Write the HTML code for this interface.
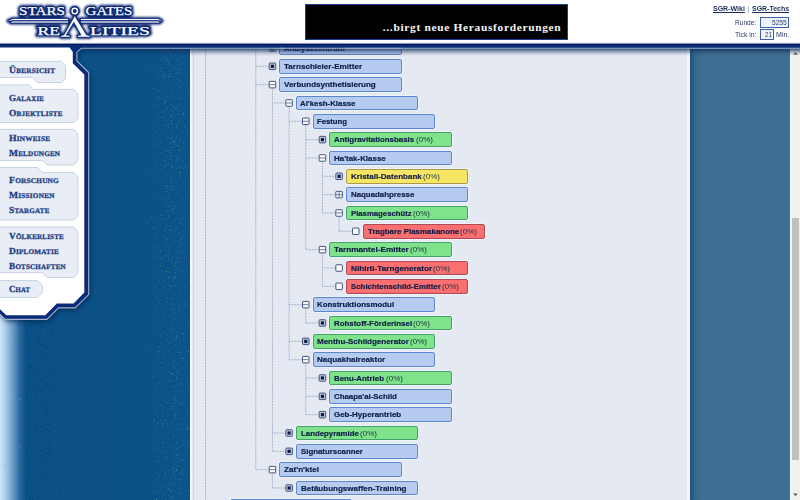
<!DOCTYPE html>
<html><head><meta charset="utf-8"><title>Stars Gates Realities</title>
<style>
html,body{margin:0;padding:0}
body{width:800px;height:500px;overflow:hidden;position:relative;background:#0b5185;font-family:"Liberation Sans",sans-serif}
.abs,.ln,.bx,.mi{position:absolute}
.ln{left:0;top:0;pointer-events:none}
#leftgrad{left:0;top:49px;width:26px;height:451px;background:linear-gradient(90deg,#cfe4f6 0,#a9cbe8 22%,#6b9cc6 50%,#2a6aa0 75%,#0b5185 100%)}
#bgmid{left:88px;top:49px;width:103px;height:451px;background:linear-gradient(90deg,#0b5185 0,#0b5287 60%,#0c5489 100%)}
#bgright{left:690px;top:49px;width:100px;height:451px;background:linear-gradient(90deg,#1c5282 0,#30648c 4%,#3b6c91 8%,#3f7093 13%,#3f7093 100%)}
#panel{left:190px;top:49px;width:500px;height:451px;background:#e4e9f2;box-sizing:border-box;border-left:2.5px solid #f4f6fa;border-right:3.5px solid #f4f6fa}
#panelin{left:193.2px;top:49px;width:1px;height:451px;background:#cfd6e4}
#sb{left:790px;top:49px;width:10px;height:451px;background:#f1f1f1;border-left:1.5px solid #fbfbfb;box-sizing:border-box}
#thumb{left:792px;top:218.2px;width:7px;height:241.6px;background:#c1c1c1}
#hdr{left:0;top:0;width:800px;height:44px;background:#fff;z-index:4}
#band{left:0;top:43.4px;width:800px;height:3.8px;background:linear-gradient(180deg,#001a58 0,#00308c 50%,#00206a 100%);z-index:4}
#band2{left:88px;top:47.2px;width:712px;height:1.9px;background:#9aa6c6;z-index:4}
#band3{left:88px;top:49.1px;width:712px;height:0.9px;background:#062868;z-index:4}
.bx{width:122.3px;height:14.6px;box-sizing:border-box;border:1px solid;border-radius:1.9px;font-size:7.6px;line-height:12.6px;color:#0f1b47;white-space:nowrap;box-shadow:0 0 0 0.7px rgba(245,248,253,.8)}
.bx b,.bx i{position:absolute;top:0.95px;transform-origin:0 50%;font-style:normal;display:inline-block}
.bx b{-webkit-text-stroke:0.18px #0f1b47}
.bx i{font-weight:normal;color:#1c3340}
.mi{font-family:"Liberation Serif",serif;font-weight:bold;color:#1d3c82;white-space:nowrap;line-height:1;transform-origin:0 50%;z-index:6;letter-spacing:0.2px;-webkit-text-stroke:0.3px #1d3c82}
#banner{left:304.6px;top:3.8px;width:263px;height:36.6px;background:#000;border:1px solid #1c3f94;box-sizing:border-box;z-index:5}
#bt{left:382.8px;top:22.25px;font-family:"Liberation Serif",serif;font-weight:bold;font-size:11.4px;line-height:1;color:#f4f4f4;white-space:nowrap;z-index:6;letter-spacing:0.688px}
.tr{font-size:7.6px;line-height:1;color:#3a4a72;white-space:nowrap;z-index:6;transform-origin:0 50%}
.inp{box-sizing:border-box;border:1px solid #3d61aa;background:#eef3fb;z-index:6}
</style></head><body>
<div class="abs" id="leftgrad"></div>
<div class="abs" id="bgmid"></div>
<div class="abs" id="bgright"></div>
<svg class="ln" width="800" height="500" viewBox="0 0 800 500" shape-rendering="crispEdges"><path d="M169 343h1v1h-1zM176 83h1v1h-1zM163 76h1v1h-1zM169 278h1v1h-1zM180 81h1v1h-1zM173 91h1v1h-1zM156 106h1v1h-1zM179 150h1v1h-1zM156 310h1v1h-1zM155 229h1v1h-1zM174 436h1v1h-1zM171 180h1v1h-1zM174 189h1v1h-1zM175 417h1v1h-1zM176 338h1v1h-1zM182 218h1v1h-1zM168 77h1v1h-1zM170 143h1v1h-1zM167 191h1v1h-1zM162 314h1v1h-1zM164 407h1v1h-1zM173 365h1v1h-1zM171 286h1v1h-1zM183 444h1v1h-1zM170 491h1v1h-1zM164 103h1v1h-1zM158 118h1v1h-1zM178 270h1v1h-1zM184 394h1v1h-1zM174 308h1v1h-1zM177 363h1v1h-1zM165 317h1v1h-1zM162 428h1v1h-1zM166 475h1v1h-1zM158 77h1v1h-1zM173 366h1v1h-1zM154 420h1v1h-1zM148 178h1v1h-1zM161 60h1v1h-1zM180 258h1v1h-1zM173 77h1v1h-1zM175 396h1v1h-1zM176 226h1v1h-1zM176 442h1v1h-1zM180 297h1v1h-1zM176 448h1v1h-1zM179 175h1v1h-1zM155 237h1v1h-1zM159 481h1v1h-1zM185 118h1v1h-1zM174 155h1v1h-1zM177 268h1v1h-1zM165 52h1v1h-1zM167 239h1v1h-1zM163 479h1v1h-1zM180 361h1v1h-1zM159 354h1v1h-1zM170 74h1v1h-1zM184 444h1v1h-1zM162 409h1v1h-1zM164 97h1v1h-1zM177 335h1v1h-1zM174 144h1v1h-1zM172 123h1v1h-1zM169 50h1v1h-1zM173 118h1v1h-1zM178 61h1v1h-1zM176 443h1v1h-1zM167 164h1v1h-1zM168 206h1v1h-1zM168 432h1v1h-1zM174 497h1v1h-1zM161 89h1v1h-1zM173 96h1v1h-1zM167 423h1v1h-1zM177 123h1v1h-1zM174 116h1v1h-1zM169 288h1v1h-1zM170 490h1v1h-1zM180 168h1v1h-1zM160 215h1v1h-1zM179 290h1v1h-1zM184 401h1v1h-1zM168 415h1v1h-1zM177 493h1v1h-1zM181 418h1v1h-1zM158 383h1v1h-1zM173 210h1v1h-1zM182 63h1v1h-1zM178 167h1v1h-1zM172 362h1v1h-1zM180 472h1v1h-1zM168 495h1v1h-1zM179 149h1v1h-1zM169 152h1v1h-1zM173 331h1v1h-1zM177 455h1v1h-1zM177 344h1v1h-1zM162 410h1v1h-1zM182 459h1v1h-1zM178 402h1v1h-1zM171 130h1v1h-1zM161 405h1v1h-1zM163 487h1v1h-1zM185 228h1v1h-1zM153 376h1v1h-1zM184 127h1v1h-1zM175 457h1v1h-1zM175 413h1v1h-1zM181 491h1v1h-1zM184 346h1v1h-1zM164 109h1v1h-1zM180 56h1v1h-1zM184 287h1v1h-1zM169 470h1v1h-1zM154 422h1v1h-1zM178 145h1v1h-1zM171 158h1v1h-1zM178 314h1v1h-1zM170 109h1v1h-1zM180 460h1v1h-1zM165 313h1v1h-1zM179 457h1v1h-1zM153 276h1v1h-1zM181 289h1v1h-1zM169 248h1v1h-1zM171 132h1v1h-1zM187 128h1v1h-1zM171 263h1v1h-1zM169 197h1v1h-1zM160 283h1v1h-1zM156 98h1v1h-1zM166 302h1v1h-1zM171 398h1v1h-1zM178 278h1v1h-1zM157 461h1v1h-1zM165 249h1v1h-1zM163 280h1v1h-1zM164 362h1v1h-1zM160 265h1v1h-1zM174 474h1v1h-1zM165 474h1v1h-1zM154 167h1v1h-1zM151 428h1v1h-1zM163 112h1v1h-1zM178 83h1v1h-1zM178 158h1v1h-1zM183 403h1v1h-1zM177 454h1v1h-1zM179 347h1v1h-1zM183 114h1v1h-1zM188 149h1v1h-1zM155 479h1v1h-1zM163 495h1v1h-1zM177 425h1v1h-1zM176 282h1v1h-1zM179 203h1v1h-1zM174 375h1v1h-1zM178 59h1v1h-1zM162 58h1v1h-1zM168 199h1v1h-1zM163 79h1v1h-1zM163 493h1v1h-1zM177 97h1v1h-1zM148 170h1v1h-1zM186 172h1v1h-1zM175 108h1v1h-1zM154 419h1v1h-1zM180 166h1v1h-1zM183 307h1v1h-1zM187 365h1v1h-1zM174 360h1v1h-1zM173 241h1v1h-1zM180 411h1v1h-1zM186 80h1v1h-1zM180 438h1v1h-1zM163 299h1v1h-1zM173 467h1v1h-1zM170 287h1v1h-1zM176 157h1v1h-1zM175 73h1v1h-1zM174 141h1v1h-1zM168 392h1v1h-1zM178 180h1v1h-1zM165 206h1v1h-1zM171 58h1v1h-1zM171 380h1v1h-1zM173 298h1v1h-1zM175 471h1v1h-1zM180 98h1v1h-1zM175 273h1v1h-1zM162 426h1v1h-1zM163 359h1v1h-1zM178 492h1v1h-1zM162 368h1v1h-1zM185 336h1v1h-1zM164 74h1v1h-1zM176 108h1v1h-1zM184 165h1v1h-1zM177 123h1v1h-1zM186 442h1v1h-1zM180 352h1v1h-1zM170 182h1v1h-1zM178 257h1v1h-1zM176 168h1v1h-1zM179 483h1v1h-1zM182 160h1v1h-1zM169 485h1v1h-1zM168 50h1v1h-1zM179 222h1v1h-1zM160 140h1v1h-1zM173 277h1v1h-1zM178 90h1v1h-1zM171 230h1v1h-1zM173 187h1v1h-1zM171 155h1v1h-1zM162 388h1v1h-1zM165 346h1v1h-1zM167 225h1v1h-1zM153 197h1v1h-1zM176 376h1v1h-1zM171 339h1v1h-1zM187 451h1v1h-1zM176 332h1v1h-1zM169 113h1v1h-1zM155 286h1v1h-1zM154 412h1v1h-1zM171 422h1v1h-1zM155 357h1v1h-1zM161 362h1v1h-1zM171 110h1v1h-1zM173 212h1v1h-1zM185 301h1v1h-1zM181 332h1v1h-1zM161 270h1v1h-1zM161 51h1v1h-1zM175 276h1v1h-1zM157 291h1v1h-1zM169 382h1v1h-1zM168 163h1v1h-1zM177 378h1v1h-1zM174 142h1v1h-1zM169 272h1v1h-1zM147 222h1v1h-1zM157 395h1v1h-1zM173 328h1v1h-1zM169 116h1v1h-1zM168 164h1v1h-1zM171 305h1v1h-1zM163 56h1v1h-1zM178 352h1v1h-1zM174 361h1v1h-1zM168 282h1v1h-1zM164 259h1v1h-1zM167 452h1v1h-1zM172 140h1v1h-1zM168 257h1v1h-1zM181 252h1v1h-1zM150 171h1v1h-1zM176 145h1v1h-1zM178 479h1v1h-1zM180 110h1v1h-1zM176 449h1v1h-1zM161 367h1v1h-1zM173 269h1v1h-1zM181 253h1v1h-1zM171 186h1v1h-1zM176 192h1v1h-1zM177 428h1v1h-1zM186 428h1v1h-1zM171 104h1v1h-1zM184 456h1v1h-1zM165 180h1v1h-1zM165 499h1v1h-1zM177 315h1v1h-1zM165 174h1v1h-1zM178 72h1v1h-1zM185 179h1v1h-1zM181 471h1v1h-1zM171 280h1v1h-1zM178 135h1v1h-1zM155 448h1v1h-1zM187 415h1v1h-1zM157 473h1v1h-1zM156 297h1v1h-1zM170 380h1v1h-1zM168 253h1v1h-1zM171 179h1v1h-1zM158 72h1v1h-1zM175 262h1v1h-1zM169 205h1v1h-1zM167 489h1v1h-1zM185 167h1v1h-1zM167 301h1v1h-1zM165 227h1v1h-1zM174 144h1v1h-1zM176 458h1v1h-1zM165 458h1v1h-1zM171 498h1v1h-1zM166 137h1v1h-1zM173 91h1v1h-1zM169 158h1v1h-1zM174 166h1v1h-1zM154 387h1v1h-1zM163 236h1v1h-1zM162 220h1v1h-1zM177 202h1v1h-1zM178 485h1v1h-1zM174 107h1v1h-1zM158 438h1v1h-1zM171 147h1v1h-1zM170 230h1v1h-1zM178 251h1v1h-1zM188 443h1v1h-1zM166 60h1v1h-1zM185 453h1v1h-1zM174 263h1v1h-1zM171 226h1v1h-1zM171 467h1v1h-1zM179 488h1v1h-1zM155 162h1v1h-1zM175 285h1v1h-1zM174 357h1v1h-1zM184 341h1v1h-1zM166 394h1v1h-1zM160 68h1v1h-1zM174 402h1v1h-1zM173 340h1v1h-1zM176 336h1v1h-1zM176 364h1v1h-1zM174 286h1v1h-1zM173 312h1v1h-1zM166 320h1v1h-1zM175 55h1v1h-1zM168 482h1v1h-1zM180 340h1v1h-1zM179 156h1v1h-1zM164 161h1v1h-1zM185 188h1v1h-1zM168 60h1v1h-1zM158 239h1v1h-1zM171 166h1v1h-1zM161 152h1v1h-1zM153 65h1v1h-1zM166 357h1v1h-1zM179 139h1v1h-1zM175 277h1v1h-1zM157 142h1v1h-1zM179 419h1v1h-1zM170 154h1v1h-1zM174 183h1v1h-1zM186 478h1v1h-1zM165 150h1v1h-1zM171 238h1v1h-1zM160 116h1v1h-1zM152 227h1v1h-1zM177 114h1v1h-1zM179 454h1v1h-1zM174 448h1v1h-1zM168 469h1v1h-1zM179 386h1v1h-1zM167 218h1v1h-1zM163 199h1v1h-1zM171 176h1v1h-1zM172 208h1v1h-1zM175 484h1v1h-1zM170 143h1v1h-1zM161 420h1v1h-1zM184 245h1v1h-1zM181 218h1v1h-1zM174 464h1v1h-1zM174 454h1v1h-1zM179 64h1v1h-1zM157 395h1v1h-1zM180 68h1v1h-1zM174 464h1v1h-1zM172 166h1v1h-1zM171 203h1v1h-1zM152 173h1v1h-1zM183 168h1v1h-1zM168 372h1v1h-1zM168 52h1v1h-1zM178 390h1v1h-1zM182 474h1v1h-1zM165 61h1v1h-1zM172 481h1v1h-1zM181 479h1v1h-1zM166 243h1v1h-1zM175 272h1v1h-1zM176 411h1v1h-1zM169 382h1v1h-1zM178 323h1v1h-1zM157 198h1v1h-1zM167 402h1v1h-1zM179 86h1v1h-1zM176 161h1v1h-1zM185 79h1v1h-1zM182 197h1v1h-1zM173 491h1v1h-1zM153 88h1v1h-1zM180 369h1v1h-1zM177 251h1v1h-1zM172 329h1v1h-1zM180 353h1v1h-1zM171 349h1v1h-1zM154 105h1v1h-1zM175 305h1v1h-1zM165 218h1v1h-1zM171 161h1v1h-1zM165 160h1v1h-1zM182 310h1v1h-1zM186 197h1v1h-1zM149 278h1v1h-1zM188 154h1v1h-1zM176 496h1v1h-1zM159 96h1v1h-1zM155 428h1v1h-1zM174 461h1v1h-1zM178 104h1v1h-1zM173 135h1v1h-1zM183 469h1v1h-1zM169 218h1v1h-1zM178 167h1v1h-1zM164 400h1v1h-1zM175 318h1v1h-1zM170 329h1v1h-1zM173 114h1v1h-1zM179 142h1v1h-1zM171 343h1v1h-1zM183 142h1v1h-1zM179 355h1v1h-1zM172 133h1v1h-1zM169 408h1v1h-1zM177 297h1v1h-1zM175 228h1v1h-1zM173 298h1v1h-1zM168 124h1v1h-1zM168 363h1v1h-1zM165 188h1v1h-1zM175 479h1v1h-1zM167 211h1v1h-1zM182 237h1v1h-1zM148 139h1v1h-1zM170 53h1v1h-1zM165 456h1v1h-1zM156 233h1v1h-1zM179 447h1v1h-1zM166 57h1v1h-1zM172 298h1v1h-1zM158 90h1v1h-1zM156 330h1v1h-1zM164 116h1v1h-1zM179 177h1v1h-1zM151 99h1v1h-1zM168 271h1v1h-1zM179 139h1v1h-1zM149 107h1v1h-1zM162 74h1v1h-1zM179 457h1v1h-1zM167 329h1v1h-1zM173 404h1v1h-1zM166 150h1v1h-1zM157 423h1v1h-1zM181 132h1v1h-1zM173 283h1v1h-1zM180 223h1v1h-1zM176 376h1v1h-1zM176 454h1v1h-1zM182 391h1v1h-1zM174 67h1v1h-1zM173 320h1v1h-1zM167 298h1v1h-1zM166 239h1v1h-1zM165 312h1v1h-1zM159 251h1v1h-1zM177 247h1v1h-1zM183 270h1v1h-1zM173 156h1v1h-1zM172 256h1v1h-1zM155 131h1v1h-1zM167 108h1v1h-1zM172 244h1v1h-1zM179 280h1v1h-1zM176 68h1v1h-1zM169 380h1v1h-1zM168 400h1v1h-1zM168 277h1v1h-1zM171 220h1v1h-1zM176 436h1v1h-1zM170 498h1v1h-1zM169 137h1v1h-1zM155 492h1v1h-1zM148 462h1v1h-1zM172 124h1v1h-1zM176 79h1v1h-1zM151 208h1v1h-1zM171 453h1v1h-1zM166 174h1v1h-1zM173 276h1v1h-1zM166 464h1v1h-1zM173 278h1v1h-1zM178 194h1v1h-1zM177 123h1v1h-1zM172 471h1v1h-1zM163 126h1v1h-1zM154 403h1v1h-1zM179 336h1v1h-1zM178 212h1v1h-1zM179 311h1v1h-1zM163 447h1v1h-1zM188 227h1v1h-1zM173 496h1v1h-1zM164 310h1v1h-1zM161 249h1v1h-1zM183 130h1v1h-1zM171 419h1v1h-1zM168 164h1v1h-1zM154 314h1v1h-1zM151 349h1v1h-1zM171 65h1v1h-1zM171 117h1v1h-1zM164 281h1v1h-1zM165 453h1v1h-1zM175 344h1v1h-1zM176 60h1v1h-1zM179 98h1v1h-1zM171 211h1v1h-1zM173 315h1v1h-1zM183 142h1v1h-1zM164 111h1v1h-1zM164 471h1v1h-1zM171 93h1v1h-1zM176 337h1v1h-1zM182 231h1v1h-1zM160 169h1v1h-1zM184 303h1v1h-1zM172 208h1v1h-1zM165 472h1v1h-1zM163 380h1v1h-1zM171 70h1v1h-1zM165 76h1v1h-1zM175 400h1v1h-1zM182 473h1v1h-1zM172 114h1v1h-1zM175 278h1v1h-1zM183 339h1v1h-1zM173 189h1v1h-1zM166 185h1v1h-1zM177 372h1v1h-1zM188 385h1v1h-1zM172 259h1v1h-1zM170 152h1v1h-1zM161 97h1v1h-1zM171 201h1v1h-1zM174 387h1v1h-1zM165 370h1v1h-1zM155 170h1v1h-1zM162 405h1v1h-1zM168 285h1v1h-1zM170 484h1v1h-1zM184 148h1v1h-1zM172 167h1v1h-1zM170 156h1v1h-1zM170 386h1v1h-1zM149 197h1v1h-1zM177 158h1v1h-1zM166 458h1v1h-1zM162 349h1v1h-1zM161 491h1v1h-1zM154 364h1v1h-1zM174 436h1v1h-1zM158 307h1v1h-1zM177 188h1v1h-1zM174 85h1v1h-1zM183 460h1v1h-1zM172 98h1v1h-1zM173 468h1v1h-1zM168 63h1v1h-1zM175 69h1v1h-1zM166 364h1v1h-1zM159 382h1v1h-1zM182 214h1v1h-1zM176 418h1v1h-1zM179 80h1v1h-1zM154 441h1v1h-1zM160 143h1v1h-1zM173 431h1v1h-1zM173 415h1v1h-1zM160 334h1v1h-1zM158 179h1v1h-1zM174 391h1v1h-1zM173 142h1v1h-1zM167 59h1v1h-1zM180 166h1v1h-1zM168 216h1v1h-1zM185 194h1v1h-1zM181 433h1v1h-1zM169 328h1v1h-1zM180 246h1v1h-1zM173 398h1v1h-1zM163 292h1v1h-1zM183 147h1v1h-1zM174 419h1v1h-1zM168 127h1v1h-1zM177 393h1v1h-1zM171 490h1v1h-1zM181 271h1v1h-1zM171 409h1v1h-1zM175 206h1v1h-1zM181 424h1v1h-1zM170 178h1v1h-1zM168 99h1v1h-1zM161 336h1v1h-1zM185 364h1v1h-1zM179 404h1v1h-1zM165 231h1v1h-1zM165 228h1v1h-1zM174 450h1v1h-1zM169 61h1v1h-1zM173 456h1v1h-1zM178 276h1v1h-1zM157 155h1v1h-1zM184 257h1v1h-1zM156 389h1v1h-1zM168 341h1v1h-1zM166 120h1v1h-1zM178 429h1v1h-1zM163 126h1v1h-1zM158 247h1v1h-1zM173 107h1v1h-1zM159 258h1v1h-1zM176 136h1v1h-1zM167 186h1v1h-1zM166 120h1v1h-1zM154 120h1v1h-1zM171 285h1v1h-1zM179 122h1v1h-1zM168 489h1v1h-1zM176 378h1v1h-1zM185 223h1v1h-1zM187 380h1v1h-1zM169 246h1v1h-1zM175 98h1v1h-1zM183 143h1v1h-1zM169 230h1v1h-1zM173 406h1v1h-1zM167 335h1v1h-1zM161 258h1v1h-1zM179 232h1v1h-1zM181 383h1v1h-1zM179 308h1v1h-1zM166 387h1v1h-1zM165 375h1v1h-1zM174 446h1v1h-1zM173 434h1v1h-1zM157 356h1v1h-1zM165 191h1v1h-1zM163 333h1v1h-1zM179 402h1v1h-1zM176 371h1v1h-1zM166 241h1v1h-1zM166 255h1v1h-1zM164 354h1v1h-1zM165 469h1v1h-1zM176 400h1v1h-1zM183 225h1v1h-1zM147 67h1v1h-1zM173 295h1v1h-1zM179 473h1v1h-1zM184 284h1v1h-1zM180 293h1v1h-1zM178 373h1v1h-1zM158 423h1v1h-1zM170 285h1v1h-1zM152 145h1v1h-1zM183 358h1v1h-1zM159 105h1v1h-1zM181 493h1v1h-1zM169 173h1v1h-1zM173 230h1v1h-1zM180 239h1v1h-1zM172 364h1v1h-1zM167 151h1v1h-1zM177 384h1v1h-1zM181 149h1v1h-1zM167 411h1v1h-1zM166 108h1v1h-1zM175 399h1v1h-1zM176 261h1v1h-1zM159 303h1v1h-1zM174 209h1v1h-1zM178 261h1v1h-1zM156 182h1v1h-1zM167 425h1v1h-1zM170 210h1v1h-1zM175 219h1v1h-1zM165 164h1v1h-1zM166 51h1v1h-1zM174 375h1v1h-1zM170 186h1v1h-1zM178 266h1v1h-1zM159 347h1v1h-1zM177 213h1v1h-1zM187 76h1v1h-1zM163 423h1v1h-1zM184 113h1v1h-1zM162 424h1v1h-1zM170 55h1v1h-1zM170 478h1v1h-1zM167 96h1v1h-1zM165 114h1v1h-1zM173 206h1v1h-1zM186 119h1v1h-1zM184 126h1v1h-1zM162 451h1v1h-1zM159 351h1v1h-1zM161 452h1v1h-1zM175 139h1v1h-1zM154 362h1v1h-1zM156 247h1v1h-1zM168 447h1v1h-1zM164 155h1v1h-1zM169 113h1v1h-1zM168 260h1v1h-1zM171 115h1v1h-1zM160 293h1v1h-1zM172 438h1v1h-1zM188 261h1v1h-1zM172 303h1v1h-1zM162 219h1v1h-1zM156 238h1v1h-1zM174 337h1v1h-1zM170 336h1v1h-1zM183 357h1v1h-1zM173 469h1v1h-1zM159 280h1v1h-1zM173 373h1v1h-1zM170 331h1v1h-1zM162 215h1v1h-1zM186 264h1v1h-1zM156 145h1v1h-1zM169 246h1v1h-1zM161 422h1v1h-1zM176 182h1v1h-1zM175 277h1v1h-1zM163 172h1v1h-1zM147 345h1v1h-1zM170 406h1v1h-1zM167 185h1v1h-1zM178 314h1v1h-1zM161 68h1v1h-1zM159 375h1v1h-1zM180 72h1v1h-1zM164 185h1v1h-1zM177 465h1v1h-1zM171 324h1v1h-1zM162 459h1v1h-1zM158 325h1v1h-1zM162 363h1v1h-1zM163 318h1v1h-1zM168 350h1v1h-1zM165 256h1v1h-1zM171 132h1v1h-1zM167 67h1v1h-1zM174 345h1v1h-1zM151 216h1v1h-1zM178 303h1v1h-1zM157 166h1v1h-1zM168 193h1v1h-1zM180 244h1v1h-1zM158 75h1v1h-1zM155 305h1v1h-1zM175 415h1v1h-1zM172 309h1v1h-1zM180 56h1v1h-1zM166 224h1v1h-1zM153 491h1v1h-1zM159 264h1v1h-1zM167 340h1v1h-1zM173 146h1v1h-1zM172 52h1v1h-1zM172 358h1v1h-1zM188 90h1v1h-1zM187 441h1v1h-1zM172 374h1v1h-1zM172 159h1v1h-1zM170 73h1v1h-1zM165 398h1v1h-1zM167 378h1v1h-1zM154 88h1v1h-1zM161 257h1v1h-1zM161 470h1v1h-1zM170 373h1v1h-1zM184 418h1v1h-1zM172 86h1v1h-1zM166 125h1v1h-1zM184 437h1v1h-1zM168 215h1v1h-1zM171 309h1v1h-1zM158 115h1v1h-1zM176 409h1v1h-1zM163 333h1v1h-1zM181 238h1v1h-1zM159 475h1v1h-1zM181 403h1v1h-1zM164 77h1v1h-1zM168 488h1v1h-1zM166 199h1v1h-1zM155 323h1v1h-1zM188 321h1v1h-1zM169 189h1v1h-1zM154 220h1v1h-1zM179 358h1v1h-1zM156 413h1v1h-1zM160 177h1v1h-1zM178 240h1v1h-1zM171 314h1v1h-1zM179 69h1v1h-1zM154 425h1v1h-1zM178 307h1v1h-1zM154 173h1v1h-1zM181 358h1v1h-1zM158 461h1v1h-1zM169 299h1v1h-1zM174 409h1v1h-1zM176 469h1v1h-1zM185 155h1v1h-1zM160 259h1v1h-1zM163 143h1v1h-1zM171 406h1v1h-1zM186 257h1v1h-1zM185 397h1v1h-1zM180 155h1v1h-1zM154 448h1v1h-1zM162 285h1v1h-1zM159 135h1v1h-1zM173 137h1v1h-1zM177 213h1v1h-1zM184 304h1v1h-1zM162 117h1v1h-1zM177 70h1v1h-1zM180 98h1v1h-1zM171 335h1v1h-1zM172 319h1v1h-1zM166 205h1v1h-1zM169 65h1v1h-1zM171 496h1v1h-1zM178 305h1v1h-1zM163 168h1v1h-1zM173 476h1v1h-1zM162 395h1v1h-1zM181 164h1v1h-1zM150 67h1v1h-1zM173 88h1v1h-1zM176 73h1v1h-1zM154 256h1v1h-1zM165 476h1v1h-1zM174 319h1v1h-1zM169 229h1v1h-1zM188 166h1v1h-1zM187 304h1v1h-1zM157 351h1v1h-1zM154 227h1v1h-1zM166 485h1v1h-1zM173 496h1v1h-1zM171 165h1v1h-1zM173 208h1v1h-1zM187 427h1v1h-1zM160 71h1v1h-1zM174 341h1v1h-1zM157 493h1v1h-1zM176 390h1v1h-1zM173 473h1v1h-1zM168 316h1v1h-1zM164 391h1v1h-1zM177 166h1v1h-1zM176 106h1v1h-1zM166 157h1v1h-1zM172 114h1v1h-1z" fill="#3d7aa6" opacity="0.55"/><path d="M171 373h1v1h-1zM171 138h1v1h-1zM176 470h1v1h-1zM183 113h1v1h-1zM160 251h1v1h-1zM187 429h1v1h-1zM183 333h1v1h-1zM165 420h1v1h-1zM174 265h1v1h-1zM169 150h1v1h-1zM169 76h1v1h-1zM170 115h1v1h-1zM162 442h1v1h-1zM171 120h1v1h-1zM180 172h1v1h-1zM176 126h1v1h-1zM166 271h1v1h-1zM165 101h1v1h-1zM188 490h1v1h-1zM188 351h1v1h-1zM178 145h1v1h-1zM165 166h1v1h-1zM173 141h1v1h-1zM156 499h1v1h-1z" fill="#3fa86c" opacity="0.8"/><path d="M49 482h1v1h-1zM47 332h1v1h-1zM41 496h1v1h-1zM34 325h1v1h-1zM45 347h1v1h-1zM33 322h1v1h-1zM48 355h1v1h-1zM31 399h1v1h-1zM48 424h1v1h-1zM38 347h1v1h-1zM49 449h1v1h-1zM58 357h1v1h-1zM46 430h1v1h-1zM44 410h1v1h-1zM41 431h1v1h-1zM49 448h1v1h-1zM47 358h1v1h-1zM30 334h1v1h-1zM41 450h1v1h-1zM32 332h1v1h-1zM45 472h1v1h-1zM34 476h1v1h-1zM40 484h1v1h-1zM42 407h1v1h-1zM47 355h1v1h-1zM36 470h1v1h-1zM38 388h1v1h-1zM46 428h1v1h-1zM54 401h1v1h-1zM42 414h1v1h-1zM53 467h1v1h-1zM53 476h1v1h-1zM35 390h1v1h-1zM56 456h1v1h-1zM61 492h1v1h-1zM50 410h1v1h-1zM30 418h1v1h-1zM41 326h1v1h-1zM49 354h1v1h-1zM41 340h1v1h-1zM42 327h1v1h-1zM60 339h1v1h-1zM40 325h1v1h-1zM36 429h1v1h-1zM31 447h1v1h-1zM36 340h1v1h-1zM53 330h1v1h-1zM30 344h1v1h-1zM30 372h1v1h-1zM42 344h1v1h-1zM37 427h1v1h-1zM45 475h1v1h-1zM50 455h1v1h-1zM52 351h1v1h-1zM53 391h1v1h-1zM49 392h1v1h-1zM32 490h1v1h-1zM44 365h1v1h-1zM33 382h1v1h-1zM53 484h1v1h-1zM50 332h1v1h-1zM65 366h1v1h-1zM36 397h1v1h-1zM36 416h1v1h-1zM35 334h1v1h-1zM31 326h1v1h-1zM47 347h1v1h-1zM59 489h1v1h-1zM39 435h1v1h-1zM50 479h1v1h-1zM37 443h1v1h-1zM36 371h1v1h-1zM36 367h1v1h-1zM31 491h1v1h-1zM41 373h1v1h-1zM37 343h1v1h-1zM56 428h1v1h-1zM54 370h1v1h-1zM39 405h1v1h-1zM36 344h1v1h-1zM41 345h1v1h-1zM39 373h1v1h-1zM52 365h1v1h-1zM53 471h1v1h-1zM49 431h1v1h-1zM29 358h1v1h-1zM36 448h1v1h-1zM30 431h1v1h-1zM45 405h1v1h-1zM39 361h1v1h-1zM49 413h1v1h-1zM32 324h1v1h-1zM51 385h1v1h-1zM47 421h1v1h-1zM36 409h1v1h-1zM36 375h1v1h-1zM71 459h1v1h-1zM44 477h1v1h-1zM45 400h1v1h-1zM51 400h1v1h-1zM46 453h1v1h-1zM48 493h1v1h-1zM47 453h1v1h-1zM47 385h1v1h-1zM49 442h1v1h-1zM27 468h1v1h-1zM29 414h1v1h-1zM41 457h1v1h-1zM45 485h1v1h-1zM27 345h1v1h-1zM43 458h1v1h-1zM41 426h1v1h-1zM42 396h1v1h-1zM46 430h1v1h-1zM31 451h1v1h-1zM45 374h1v1h-1zM32 390h1v1h-1zM50 379h1v1h-1zM46 411h1v1h-1zM45 348h1v1h-1zM50 424h1v1h-1zM38 486h1v1h-1zM40 380h1v1h-1zM53 493h1v1h-1zM26 358h1v1h-1zM52 330h1v1h-1zM31 486h1v1h-1zM37 460h1v1h-1zM33 414h1v1h-1zM38 386h1v1h-1zM33 428h1v1h-1zM28 442h1v1h-1zM62 415h1v1h-1zM50 393h1v1h-1zM48 422h1v1h-1zM33 409h1v1h-1zM29 499h1v1h-1zM47 383h1v1h-1zM39 379h1v1h-1zM61 413h1v1h-1zM39 342h1v1h-1zM54 468h1v1h-1zM33 498h1v1h-1zM50 350h1v1h-1zM35 374h1v1h-1zM30 355h1v1h-1zM41 354h1v1h-1zM33 385h1v1h-1zM32 499h1v1h-1zM40 395h1v1h-1zM40 462h1v1h-1zM37 323h1v1h-1zM56 376h1v1h-1zM49 441h1v1h-1zM31 357h1v1h-1zM29 369h1v1h-1zM42 437h1v1h-1zM35 395h1v1h-1zM46 457h1v1h-1zM46 341h1v1h-1zM47 415h1v1h-1zM46 469h1v1h-1zM28 333h1v1h-1zM30 324h1v1h-1zM43 449h1v1h-1zM33 385h1v1h-1zM46 340h1v1h-1zM49 483h1v1h-1zM34 402h1v1h-1zM37 391h1v1h-1zM62 426h1v1h-1zM49 493h1v1h-1zM29 366h1v1h-1zM47 330h1v1h-1zM60 378h1v1h-1zM34 482h1v1h-1zM45 429h1v1h-1zM34 493h1v1h-1zM43 391h1v1h-1zM41 377h1v1h-1zM35 478h1v1h-1zM44 353h1v1h-1zM38 495h1v1h-1zM47 374h1v1h-1zM37 417h1v1h-1zM40 391h1v1h-1zM39 344h1v1h-1zM44 469h1v1h-1zM38 356h1v1h-1zM48 372h1v1h-1zM42 440h1v1h-1zM45 383h1v1h-1zM51 338h1v1h-1zM55 370h1v1h-1zM45 401h1v1h-1zM37 471h1v1h-1zM44 385h1v1h-1zM36 451h1v1h-1zM60 491h1v1h-1zM35 403h1v1h-1zM42 345h1v1h-1zM40 482h1v1h-1zM35 427h1v1h-1zM37 430h1v1h-1zM48 360h1v1h-1zM46 413h1v1h-1zM38 419h1v1h-1zM40 390h1v1h-1zM59 439h1v1h-1zM34 391h1v1h-1zM38 337h1v1h-1zM51 379h1v1h-1zM59 440h1v1h-1zM52 386h1v1h-1zM50 411h1v1h-1zM41 377h1v1h-1zM46 362h1v1h-1zM53 372h1v1h-1zM53 394h1v1h-1zM57 479h1v1h-1zM33 475h1v1h-1zM47 327h1v1h-1zM48 443h1v1h-1zM37 395h1v1h-1zM34 439h1v1h-1zM40 473h1v1h-1zM35 385h1v1h-1zM38 343h1v1h-1zM37 484h1v1h-1zM40 329h1v1h-1zM26 329h1v1h-1zM45 376h1v1h-1zM48 390h1v1h-1zM50 436h1v1h-1zM44 354h1v1h-1zM49 450h1v1h-1zM31 367h1v1h-1zM28 384h1v1h-1zM48 322h1v1h-1zM51 373h1v1h-1zM27 330h1v1h-1zM50 330h1v1h-1zM31 366h1v1h-1z" fill="#0a2f86" opacity="0.7"/><path d="M5 464h1v1h-1zM7 485h1v1h-1zM16 340h1v1h-1zM15 394h1v1h-1zM16 470h1v1h-1zM8 341h1v1h-1zM19 399h1v1h-1zM19 446h1v1h-1z" fill="#55c080" opacity="0.8"/></svg>
<div class="abs" id="panel"></div>
<div class="abs" id="panelin"></div>
<svg class="ln" width="800" height="500" viewBox="0 0 800 500"><g stroke="#8794b0" stroke-width="0.85" stroke-dasharray="0.77 0.77" fill="none"><line x1="205.60" y1="49.00" x2="205.60" y2="500.00"/><line x1="255.79" y1="47.96" x2="268.75" y2="47.96"/><line x1="255.79" y1="66.30" x2="268.75" y2="66.30"/><line x1="255.79" y1="84.63" x2="268.75" y2="84.63"/><line x1="272.45" y1="102.97" x2="285.41" y2="102.97"/><line x1="289.11" y1="121.31" x2="302.07" y2="121.31"/><line x1="305.77" y1="139.64" x2="318.73" y2="139.64"/><line x1="305.77" y1="157.98" x2="318.73" y2="157.98"/><line x1="322.43" y1="176.31" x2="335.39" y2="176.31"/><line x1="322.43" y1="194.64" x2="335.39" y2="194.64"/><line x1="322.43" y1="212.98" x2="335.39" y2="212.98"/><line x1="339.09" y1="231.31" x2="352.05" y2="231.31"/><line x1="305.77" y1="249.65" x2="318.73" y2="249.65"/><line x1="322.43" y1="267.99" x2="335.39" y2="267.99"/><line x1="322.43" y1="286.32" x2="335.39" y2="286.32"/><line x1="289.11" y1="304.66" x2="302.07" y2="304.66"/><line x1="305.77" y1="322.99" x2="318.73" y2="322.99"/><line x1="289.11" y1="341.33" x2="302.07" y2="341.33"/><line x1="289.11" y1="359.66" x2="302.07" y2="359.66"/><line x1="305.77" y1="378.00" x2="318.73" y2="378.00"/><line x1="305.77" y1="396.33" x2="318.73" y2="396.33"/><line x1="305.77" y1="414.67" x2="318.73" y2="414.67"/><line x1="272.45" y1="433.00" x2="285.41" y2="433.00"/><line x1="272.45" y1="451.34" x2="285.41" y2="451.34"/><line x1="255.79" y1="469.67" x2="268.75" y2="469.67"/><line x1="272.45" y1="488.01" x2="285.41" y2="488.01"/><line x1="255.79" y1="40.00" x2="255.79" y2="469.67"/><line x1="272.45" y1="88.33" x2="272.45" y2="451.34"/><line x1="289.11" y1="106.67" x2="289.11" y2="359.66"/><line x1="305.77" y1="125.01" x2="305.77" y2="249.65"/><line x1="322.43" y1="161.68" x2="322.43" y2="212.98"/><line x1="339.09" y1="216.68" x2="339.09" y2="231.31"/><line x1="322.43" y1="253.35" x2="322.43" y2="286.32"/><line x1="305.77" y1="308.36" x2="305.77" y2="322.99"/><line x1="305.77" y1="363.36" x2="305.77" y2="414.67"/><line x1="272.45" y1="473.37" x2="272.45" y2="488.01"/><line x1="205.60" y1="506.34" x2="218.80" y2="506.34"/></g></svg>
<svg class="ln" width="800" height="500" viewBox="0 0 800 500"><rect x="269.20" y="44.71" width="6.5" height="6.5" rx="0.6" fill="#c3cbdb" stroke="#435681" stroke-width="1"/><rect x="270.85" y="46.36" width="3.2" height="3.2" fill="#0e1a4a"/><rect x="269.20" y="63.05" width="6.5" height="6.5" rx="0.6" fill="#c3cbdb" stroke="#435681" stroke-width="1"/><rect x="270.85" y="64.70" width="3.2" height="3.2" fill="#0e1a4a"/><rect x="269.20" y="81.38" width="6.5" height="6.5" rx="0.6" fill="#fdfdff" stroke="#435681" stroke-width="1"/><line x1="269.70" y1="84.63" x2="275.20" y2="84.63" stroke="#5a6c94" stroke-width="0.9"/><rect x="285.86" y="99.72" width="6.5" height="6.5" rx="0.6" fill="#fdfdff" stroke="#435681" stroke-width="1"/><line x1="286.36" y1="102.97" x2="291.86" y2="102.97" stroke="#5a6c94" stroke-width="0.9"/><rect x="302.52" y="118.06" width="6.5" height="6.5" rx="0.6" fill="#fdfdff" stroke="#435681" stroke-width="1"/><line x1="303.02" y1="121.31" x2="308.52" y2="121.31" stroke="#5a6c94" stroke-width="0.9"/><rect x="319.18" y="136.39" width="6.5" height="6.5" rx="0.6" fill="#c3cbdb" stroke="#435681" stroke-width="1"/><rect x="320.83" y="138.04" width="3.2" height="3.2" fill="#0e1a4a"/><rect x="319.18" y="154.73" width="6.5" height="6.5" rx="0.6" fill="#fdfdff" stroke="#435681" stroke-width="1"/><line x1="319.68" y1="157.98" x2="325.18" y2="157.98" stroke="#5a6c94" stroke-width="0.9"/><rect x="335.84" y="173.06" width="6.5" height="6.5" rx="0.6" fill="#c3cbdb" stroke="#435681" stroke-width="1"/><rect x="337.49" y="174.71" width="3.2" height="3.2" fill="#0e1a4a"/><rect x="335.84" y="191.39" width="6.5" height="6.5" rx="0.6" fill="#fdfdff" stroke="#435681" stroke-width="1"/><line x1="336.34" y1="194.64" x2="341.84" y2="194.64" stroke="#5a6c94" stroke-width="0.9"/><line x1="339.09" y1="191.89" x2="339.09" y2="197.39" stroke="#5a6c94" stroke-width="0.9"/><rect x="335.84" y="209.73" width="6.5" height="6.5" rx="0.6" fill="#fdfdff" stroke="#435681" stroke-width="1"/><line x1="336.34" y1="212.98" x2="341.84" y2="212.98" stroke="#5a6c94" stroke-width="0.9"/><rect x="352.50" y="228.06" width="6.5" height="6.5" rx="0.6" fill="#fdfdff" stroke="#435681" stroke-width="1"/><rect x="319.18" y="246.40" width="6.5" height="6.5" rx="0.6" fill="#fdfdff" stroke="#435681" stroke-width="1"/><line x1="319.68" y1="249.65" x2="325.18" y2="249.65" stroke="#5a6c94" stroke-width="0.9"/><rect x="335.84" y="264.74" width="6.5" height="6.5" rx="0.6" fill="#fdfdff" stroke="#435681" stroke-width="1"/><rect x="335.84" y="283.07" width="6.5" height="6.5" rx="0.6" fill="#fdfdff" stroke="#435681" stroke-width="1"/><rect x="302.52" y="301.41" width="6.5" height="6.5" rx="0.6" fill="#fdfdff" stroke="#435681" stroke-width="1"/><line x1="303.02" y1="304.66" x2="308.52" y2="304.66" stroke="#5a6c94" stroke-width="0.9"/><rect x="319.18" y="319.74" width="6.5" height="6.5" rx="0.6" fill="#c3cbdb" stroke="#435681" stroke-width="1"/><rect x="320.83" y="321.39" width="3.2" height="3.2" fill="#0e1a4a"/><rect x="302.52" y="338.08" width="6.5" height="6.5" rx="0.6" fill="#c3cbdb" stroke="#435681" stroke-width="1"/><rect x="304.17" y="339.73" width="3.2" height="3.2" fill="#0e1a4a"/><rect x="302.52" y="356.41" width="6.5" height="6.5" rx="0.6" fill="#fdfdff" stroke="#435681" stroke-width="1"/><line x1="303.02" y1="359.66" x2="308.52" y2="359.66" stroke="#5a6c94" stroke-width="0.9"/><rect x="319.18" y="374.75" width="6.5" height="6.5" rx="0.6" fill="#c3cbdb" stroke="#435681" stroke-width="1"/><rect x="320.83" y="376.39" width="3.2" height="3.2" fill="#0e1a4a"/><rect x="319.18" y="393.08" width="6.5" height="6.5" rx="0.6" fill="#c3cbdb" stroke="#435681" stroke-width="1"/><rect x="320.83" y="394.73" width="3.2" height="3.2" fill="#0e1a4a"/><rect x="319.18" y="411.42" width="6.5" height="6.5" rx="0.6" fill="#c3cbdb" stroke="#435681" stroke-width="1"/><rect x="320.83" y="413.06" width="3.2" height="3.2" fill="#0e1a4a"/><rect x="285.86" y="429.75" width="6.5" height="6.5" rx="0.6" fill="#c3cbdb" stroke="#435681" stroke-width="1"/><rect x="287.51" y="431.40" width="3.2" height="3.2" fill="#0e1a4a"/><rect x="285.86" y="448.09" width="6.5" height="6.5" rx="0.6" fill="#c3cbdb" stroke="#435681" stroke-width="1"/><rect x="287.51" y="449.74" width="3.2" height="3.2" fill="#0e1a4a"/><rect x="269.20" y="466.42" width="6.5" height="6.5" rx="0.6" fill="#fdfdff" stroke="#435681" stroke-width="1"/><line x1="269.70" y1="469.67" x2="275.20" y2="469.67" stroke="#5a6c94" stroke-width="0.9"/><rect x="285.86" y="484.76" width="6.5" height="6.5" rx="0.6" fill="#c3cbdb" stroke="#435681" stroke-width="1"/><rect x="287.51" y="486.41" width="3.2" height="3.2" fill="#0e1a4a"/></svg>
<div class="bx" style="left:279.30px;top:40.66px;background:#b5cbf0;border-color:#5c86cd"><b style="left:3.80px;transform:scaleX(1.0374)">Analysezentrum</b></div>
<div class="bx" style="left:279.30px;top:59.00px;background:#b5cbf0;border-color:#5c86cd"><b style="left:3.80px;transform:scaleX(1.0655)">Tarnschleier-Emitter</b></div>
<div class="bx" style="left:279.30px;top:77.33px;background:#b5cbf0;border-color:#5c86cd"><b style="left:3.40px;transform:scaleX(1.0548)">Verbundsynthetisierung</b></div>
<div class="bx" style="left:295.96px;top:95.67px;background:#b5cbf0;border-color:#5c86cd"><b style="left:3.44px;transform:scaleX(1.0326)">Al'kesh-Klasse</b></div>
<div class="bx" style="left:312.62px;top:114.01px;background:#b5cbf0;border-color:#5c86cd"><b style="left:3.48px;transform:scaleX(1.0166)">Festung</b></div>
<div class="bx" style="left:329.28px;top:132.34px;background:#7fe38c;border-color:#46a06a"><b style="left:3.82px;transform:scaleX(1.0375)">Antigravitationsbasis</b><i style="left:85.42px;transform:scaleX(1.0594)">(0%)</i></div>
<div class="bx" style="left:329.28px;top:150.68px;background:#b5cbf0;border-color:#5c86cd"><b style="left:3.82px;transform:scaleX(1.0448)">Ha'tak-Klasse</b></div>
<div class="bx" style="left:345.94px;top:169.01px;background:#f7e663;border-color:#a99a4a"><b style="left:3.76px;transform:scaleX(1.0551)">Kristall-Datenbank</b><i style="left:76.16px;transform:scaleX(1.0594)">(0%)</i></div>
<div class="bx" style="left:345.94px;top:187.34px;background:#b5cbf0;border-color:#5c86cd"><b style="left:3.76px;transform:scaleX(1.0341)">Naquadahpresse</b></div>
<div class="bx" style="left:345.94px;top:205.68px;background:#7fe38c;border-color:#46a06a"><b style="left:3.76px;transform:scaleX(1.0191)">Plasmageschütz</b><i style="left:66.16px;transform:scaleX(1.0594)">(0%)</i></div>
<div class="bx" style="left:362.60px;top:224.01px;background:#fa7070;border-color:#b04a55"><b style="left:4.00px;transform:scaleX(1.0447)">Tragbare Plasmakanone</b><i style="left:96.10px;transform:scaleX(1.0594)">(0%)</i></div>
<div class="bx" style="left:329.28px;top:242.35px;background:#7fe38c;border-color:#46a06a"><b style="left:3.57px;transform:scaleX(1.0830)">Tarnmantel-Emitter</b><i style="left:79.42px;transform:scaleX(1.0594)">(0%)</i></div>
<div class="bx" style="left:345.94px;top:260.69px;background:#fa7070;border-color:#b04a55"><b style="left:3.91px;transform:scaleX(1.0763)">Nihirti-Tarngenerator</b><i style="left:86.51px;transform:scaleX(1.0594)">(0%)</i></div>
<div class="bx" style="left:345.94px;top:279.02px;background:#fa7070;border-color:#b04a55"><b style="left:3.91px;transform:scaleX(1.0325)">Schichtenschild-Emitter</b><i style="left:95.01px;transform:scaleX(1.0594)">(0%)</i></div>
<div class="bx" style="left:312.62px;top:297.36px;background:#b5cbf0;border-color:#5c86cd"><b style="left:3.48px;transform:scaleX(1.0381)">Konstruktionsmodul</b></div>
<div class="bx" style="left:329.28px;top:315.69px;background:#7fe38c;border-color:#46a06a"><b style="left:3.57px;transform:scaleX(1.0399)">Rohstoff-Förderinsel</b><i style="left:82.92px;transform:scaleX(1.0594)">(0%)</i></div>
<div class="bx" style="left:312.62px;top:334.03px;background:#7fe38c;border-color:#46a06a"><b style="left:3.48px;transform:scaleX(1.0509)">Menthu-Schildgenerator</b><i style="left:96.08px;transform:scaleX(1.0594)">(0%)</i></div>
<div class="bx" style="left:312.62px;top:352.36px;background:#b5cbf0;border-color:#5c86cd"><b style="left:3.48px;transform:scaleX(1.0632)">Naquakhalreaktor</b></div>
<div class="bx" style="left:329.28px;top:370.69px;background:#7fe38c;border-color:#46a06a"><b style="left:3.57px;transform:scaleX(1.0386)">Benu-Antrieb</b><i style="left:55.42px;transform:scaleX(1.0594)">(0%)</i></div>
<div class="bx" style="left:329.28px;top:389.03px;background:#b5cbf0;border-color:#5c86cd"><b style="left:3.57px;transform:scaleX(1.0328)">Chaapa'ai-Schild</b></div>
<div class="bx" style="left:329.28px;top:407.37px;background:#b5cbf0;border-color:#5c86cd"><b style="left:3.57px;transform:scaleX(1.0475)">Geb-Hyperantrieb</b></div>
<div class="bx" style="left:295.96px;top:425.70px;background:#7fe38c;border-color:#46a06a"><b style="left:4.14px;transform:scaleX(1.0299)">Landepyramide</b><i style="left:63.24px;transform:scaleX(1.0594)">(0%)</i></div>
<div class="bx" style="left:295.96px;top:444.04px;background:#b5cbf0;border-color:#5c86cd"><b style="left:4.14px;transform:scaleX(1.0324)">Signaturscanner</b></div>
<div class="bx" style="left:279.30px;top:462.37px;background:#b5cbf0;border-color:#5c86cd"><b style="left:4.20px;transform:scaleX(1.0722)">Zat'n'ktel</b></div>
<div class="bx" style="left:295.96px;top:480.71px;background:#b5cbf0;border-color:#5c86cd"><b style="left:4.14px;transform:scaleX(1.0549)">Betäubungswaffen-Training</b></div>
<div class="bx" style="left:229.8px;top:499.04px;background:#b5cbf0;border-color:#5c86cd"></div>
<div class="abs" id="sb"></div><div class="abs" id="thumb"></div>
<svg class="ln" width="800" height="500" viewBox="0 0 800 500"><path d="M793.2,54.6 L795.5,52.2 L797.8,54.6 Z" fill="#505050"/><path d="M793.2,493.6 L795.5,496 L797.8,493.6 Z" fill="#505050"/></svg>
<div class="abs" style="left:89px;top:48.6px;width:711px;height:7.5px;background:linear-gradient(180deg,rgba(40,60,110,.55) 0,rgba(40,60,110,.28) 30%,rgba(40,60,110,.08) 70%,rgba(40,60,110,0) 100%);z-index:3"></div>
<div class="abs" id="hdr"></div>

<svg class="ln" style="z-index:5" width="800" height="340" viewBox="0 0 800 340">
<defs><filter id="sh" x="-20%" y="-20%" width="140%" height="140%"><feGaussianBlur stdDeviation="2.4"/></filter></defs>
<polygon points="-0.3999999999999999,46.4 803.6,46.4 803.6,50.300000000000004 82.8,50.300000000000004 78.0,54.6 78.0,63.800000000000004 89.8,75.39999999999999 89.8,297.0 76.6,310.0 59.800000000000004,310.0 48.300000000000004,321.5 7.1,321.5 -0.3999999999999999,314.6" fill="#04204c" opacity="0.75" filter="url(#sh)"/>
<polygon points="-2,43.8 802,43.8 802,47.7 81.2,47.7 76.4,52 76.4,61.2 88.2,72.8 88.2,294.4 75,307.4 58.2,307.4 46.7,318.9 5.5,318.9 -2,312.0" fill="#0a2b79"/>
<rect x="-2" y="43.8" width="804" height="1.2" fill="#001a58"/>
<polyline points="802,48.2 81.4,48.2 76.9,52.2 76.9,61.0 88.7,72.6 88.7,294.6 75.2,307.9 58.4,307.9 46.9,319.4 5.3,319.4 -2,312.6" fill="none" stroke="#a3b0cc" stroke-width="1.1"/>
<polygon points="-2,47.5 69.6,47.5 72.8,52 72.8,63.2 84.3,74.4 84.3,292.5 73.6,303.5 56.8,303.5 45.3,315.3 6.4,315.3 -2,307.4" fill="#ffffff"/>
<polygon points="-2,61.4 61,61.4 65.6,65.8 65.6,78.5 61,82.5 37.5,82.5 32.5,77.5 -2,77.5" fill="#e9edf5" stroke="#c9d2e3" stroke-width="1"/><polygon points="-2,85 28.75,85 33,89.4 73.75,89.4 78,93.75 78,118.5 73.75,122.5 -2,122.5" fill="#e9edf5" stroke="#c9d2e3" stroke-width="1"/><polygon points="-2,129.4 73.75,129.4 78,134 78,160.6 73.75,165 47,165 42.5,160.6 -2,160.6" fill="#e9edf5" stroke="#c9d2e3" stroke-width="1"/><polygon points="-2,167.5 37.5,167.5 42.5,172.5 73.75,172.5 78,177 78,215.5 73.75,220 -2,220" fill="#e9edf5" stroke="#c9d2e3" stroke-width="1"/><polygon points="-2,227 73.75,227 78,231.5 78,273 73.75,277.5 47,277.5 42.5,272.5 -2,272.5" fill="#e9edf5" stroke="#c9d2e3" stroke-width="1"/><polygon points="-2,280.6 37.5,280.6 42.5,285.6 42.5,292.5 37.5,297.5 -2,297.5" fill="#e9edf5" stroke="#c9d2e3" stroke-width="1"/>
</svg>
<div class="mi" style="left:8.6px;top:66.46px;font-size:9.3px;transform:rotate(0.03deg) scaleX(1.0322)">Ü<span style="font-size:7.02px">BERSICHT</span></div>
<div class="mi" style="left:8.6px;top:93.56px;font-size:9.3px;transform:rotate(0.03deg) scaleX(0.9737)">G<span style="font-size:7.02px">ALAXIE</span></div>
<div class="mi" style="left:8.6px;top:108.86px;font-size:9.3px;transform:rotate(0.03deg) scaleX(1.0114)">O<span style="font-size:7.02px">BJEKTLISTE</span></div>
<div class="mi" style="left:8.6px;top:133.96px;font-size:9.3px;transform:rotate(0.03deg) scaleX(1.0400)">H<span style="font-size:7.02px">INWEISE</span></div>
<div class="mi" style="left:8.6px;top:148.96px;font-size:9.3px;transform:rotate(0.03deg) scaleX(1.0174)">M<span style="font-size:7.02px">ELDUNGEN</span></div>
<div class="mi" style="left:8.6px;top:176.46px;font-size:9.3px;transform:rotate(0.03deg) scaleX(1.0405)">F<span style="font-size:7.02px">ORSCHUNG</span></div>
<div class="mi" style="left:8.6px;top:191.16px;font-size:9.3px;transform:rotate(0.03deg) scaleX(1.0342)">M<span style="font-size:7.02px">ISSIONEN</span></div>
<div class="mi" style="left:8.6px;top:205.96px;font-size:9.3px;transform:rotate(0.03deg) scaleX(1.0049)">S<span style="font-size:7.02px">TARGATE</span></div>
<div class="mi" style="left:8.6px;top:231.71px;font-size:9.3px;transform:rotate(0.03deg) scaleX(1.0007)">V<span style="font-size:7.02px">ÖLKERLISTE</span></div>
<div class="mi" style="left:8.6px;top:246.71px;font-size:9.3px;transform:rotate(0.03deg) scaleX(1.0171)">D<span style="font-size:7.02px">IPLOMATIE</span></div>
<div class="mi" style="left:8.6px;top:261.56px;font-size:9.3px;transform:rotate(0.03deg) scaleX(1.0012)">B<span style="font-size:7.02px">OTSCHAFTEN</span></div>
<div class="mi" style="left:8.6px;top:285.46px;font-size:9.3px;transform:rotate(0.03deg) scaleX(0.9567)">C<span style="font-size:7.02px">HAT</span></div>
<svg class="ln" style="z-index:6" width="180" height="43" viewBox="0 0 180 43">
<defs><filter id="lg" x="-10%" y="-40%" width="120%" height="180%"><feGaussianBlur stdDeviation="0.9"/></filter>
<g id="lshape">
<text x="19" y="14.7" font-size="13.4" textLength="46" lengthAdjust="spacingAndGlyphs">STARS</text>
<text x="85.6" y="14.7" font-size="13.4" textLength="46.8" lengthAdjust="spacingAndGlyphs">GATES</text>
<text x="37.5" y="35" font-size="12.4" textLength="22.5" lengthAdjust="spacingAndGlyphs">RE</text>
<text x="90" y="35" font-size="12.4" textLength="59.8" lengthAdjust="spacingAndGlyphs">LITIES</text>
</g>
<g id="lbars">
<path d="M8.5,20.7 L13,19.1 L68,19.1 L68,20 L13,20 Z M11,22.4 L68,22.4 L68,21.6 L13,21.6 Z"/>
<path d="M81,19.1 L158,19.1 L161.5,20.7 L158,20 L81,20 Z M81,21.6 L158,21.6 L159.5,22.4 L81,22.4 Z"/>
<path d="M74.75,16.4 L86.2,35.2 L89.6,36 L89.6,36.7 L78,36.7 L78,36 L81.6,35.2 L73.9,21.6 L65.6,35.2 L69.6,36 L69.6,36.7 L61.2,36.7 L61.2,36 L64.2,35.2 Z"/>
</g>
</defs>
<g font-family="Liberation Serif" filter="url(#lg)" fill="#0b2872" stroke="#0b2872" stroke-width="4.4" stroke-linejoin="round">
<use href="#lshape"/><use href="#lbars"/>
<circle cx="74.75" cy="11" r="3.2" fill="none" stroke-width="4.6"/>
</g>
<g font-family="Liberation Serif" fill="#0b2872" stroke="#0b2872" stroke-width="2.2" stroke-linejoin="round">
<use href="#lshape"/><use href="#lbars"/>
<circle cx="74.75" cy="11" r="3.2" fill="none" stroke-width="3.4"/>
</g>
<g font-family="Liberation Serif" fill="#fbfcff" stroke="#fbfcff" stroke-width="0.25">
<use href="#lshape"/><use href="#lbars"/>
<circle cx="74.75" cy="11" r="2.7" fill="#0b2872" stroke="#fbfcff" stroke-width="1.5"/>
</g>
</svg>
<div class="abs" id="banner"></div>
<div class="abs" id="bt">...birgt neue Herausforderungen</div>
<div class="abs tr" style="left:712.70px;top:5.96px;font-size:6.9px;color:#1b2c5e;font-weight:bold;transform:scaleX(1.0168);text-decoration:underline;text-decoration-thickness:0.7px;text-underline-offset:0.6px;">SGR-Wiki</div><div class="abs tr" style="left:748.20px;top:5.96px;font-size:6.9px;color:#1b2c5e;transform:scaleX(0.5579);">|</div><div class="abs tr" style="left:752.10px;top:5.96px;font-size:6.9px;color:#1b2c5e;font-weight:bold;transform:scaleX(1.0114);text-decoration:underline;text-decoration-thickness:0.7px;text-underline-offset:0.6px;">SGR-Techs</div><div class="abs tr" style="left:734.95px;top:19.71px;font-size:6.9px;color:#2b3a66;transform:scaleX(0.9551);">Runde:</div><div class="abs inp" style="left:760px;top:17.2px;width:29.2px;height:10.6px"></div><div class="abs tr" style="left:772.45px;top:19.71px;font-size:6.9px;color:#2b3a66;transform:scaleX(0.9544);">5255</div><div class="abs tr" style="left:735.20px;top:31.86px;font-size:6.9px;color:#2b3a66;transform:scaleX(0.9955);">Tick in:</div><div class="abs inp" style="left:760px;top:29.1px;width:13.9px;height:10.8px"></div><div class="abs tr" style="left:765.20px;top:31.86px;font-size:6.9px;color:#2b3a66;transform:scaleX(0.8990);">21</div><div class="abs tr" style="left:775.80px;top:31.86px;font-size:6.9px;color:#2b3a66;transform:scaleX(1.0280);">Min.</div>
</body></html>
